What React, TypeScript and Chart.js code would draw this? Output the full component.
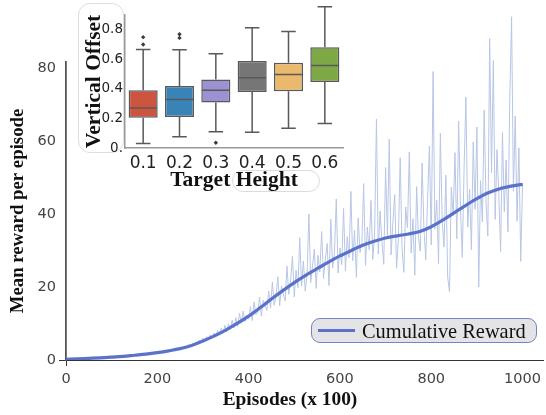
import React, { useEffect, useRef } from 'react';
import { Chart, registerables } from 'chart.js';

Chart.register(...registerables);

// ---------- main chart data ----------
const X_TICKS = [0, 200, 400, 600, 800, 1000];
const Y_TICKS = [0, 20, 40, 60, 80];

const SMOOTH_EPISODES = [
  0, 25, 50, 75, 100, 125, 150, 175, 200, 225, 250, 275, 300, 325, 350, 375, 400, 425, 450, 475, 500,
  525, 550, 575, 600, 625, 650, 675, 700, 725, 750, 775, 800, 825, 850, 875, 900, 925, 950, 975, 1000,
];
const SMOOTH_REWARD = [
  0.2, 0.3, 0.45, 0.6, 0.8, 1.0, 1.3, 1.6, 2.0, 2.5, 3.1, 4.0, 5.2, 6.6, 8.2, 10.0, 12.0, 14.3, 16.7, 19.0, 21.2,
  23.2, 25.0, 26.8, 28.5, 30.0, 31.4, 32.5, 33.4, 34.0, 34.5, 35.2, 36.5, 38.3, 40.3, 42.3, 44.2, 45.8, 46.9, 47.6, 48.1,
];

const RAW_STEP = 4; // episodes between raw samples
const RAW_REWARD = [
  0.2, 0.2, 0.3, 0.2, 0.3, 0.2, 0.3, 0.3, 0.3, 0.4,
  0.4, 0.4, 0.5, 0.4, 0.5, 0.5, 0.6, 0.5, 0.6, 0.6,
  0.7, 0.6, 0.7, 0.8, 0.7, 0.8, 0.9, 0.8, 0.9, 1.0,
  0.9, 1.1, 1.0, 1.2, 1.1, 1.3, 1.2, 1.4, 1.3, 1.5,
  1.4, 1.6, 1.5, 1.7, 1.6, 1.8, 1.9, 1.7, 2.0, 1.9,
  2.1, 2.0, 2.3, 2.2, 2.5, 2.3, 2.6, 2.8, 2.5, 2.9,
  2.8, 3.2, 2.9, 3.5, 3.1, 3.8, 3.4, 4.2, 3.7, 4.4,
  4.0, 4.9, 4.3, 5.5, 4.8, 6.0, 5.1, 6.4, 5.6, 6.9,
  5.9, 7.4, 6.2, 8.1, 6.9, 8.7, 7.3, 9.5, 7.8, 9.9,
  8.4, 10.9, 8.8, 11.6, 9.2, 12.8, 10.1, 13.4, 10.5, 12.2,
  11.2, 14.6, 10.8, 15.9, 12.4, 13.1, 17.2, 12.0, 16.4, 14.8,
  13.6, 18.9, 14.2, 21.4, 15.0, 17.6, 22.8, 14.9, 20.3, 18.1,
  16.2, 25.7, 18.0, 21.9, 28.4, 17.3, 24.6, 19.8, 33.5, 20.2,
  27.1, 18.9, 23.4, 40.0, 21.2, 25.8, 30.4, 19.6, 28.7, 24.1,
  35.2, 22.3, 27.6, 31.9, 20.4, 38.6, 25.2, 29.3, 44.1, 23.8,
  30.7, 26.1, 41.5, 24.4, 33.8, 28.0, 46.2, 27.2, 35.5, 22.6,
  38.9, 29.4, 31.8, 48.3, 25.9, 36.4, 30.2, 43.7, 27.5, 34.9,
  66.0, 29.0, 40.8, 32.4, 26.2, 52.7, 34.1, 60.5, 28.8, 37.6,
  45.3, 25.1, 33.0, 55.4, 30.6, 24.0, 41.9, 36.2, 57.0, 29.3,
  38.7, 23.2, 47.5, 33.6, 29.8, 53.9, 36.0, 27.4, 44.2, 58.6,
  31.5, 79.0, 35.9, 43.8, 26.4, 62.1, 38.2, 30.9, 50.6, 22.7,
  18.6, 47.3, 39.5, 56.8, 33.2, 65.4, 42.0, 28.1, 52.9, 72.0,
  36.4, 46.8, 30.2, 59.7, 41.3, 63.8, 20.0, 49.1, 37.8, 68.4,
  43.0, 33.9, 88.0, 51.2, 82.0, 38.5, 57.6, 45.1, 29.7, 62.3,
  40.6, 54.8, 35.1, 71.5, 94.0, 46.2, 66.8, 38.0, 58.1, 27.0,
  48.5,
];

// ---------- inset boxplot data ----------
const HEIGHT_LABELS = ['0.1', '0.2', '0.3', '0.4', '0.5', '0.6'];
const BOX_Q1 = [0.204, 0.21, 0.308, 0.379, 0.384, 0.446];
const BOX_Q3 = [0.39, 0.42, 0.463, 0.588, 0.577, 0.682];
const BOX_MEDIAN = [0.27, 0.328, 0.39, 0.476, 0.498, 0.559];
const WHISKER_LOW = [0.03, 0.076, 0.11, 0.106, 0.133, 0.166];
const WHISKER_HIGH = [0.667, 0.665, 0.638, 0.813, 0.788, 0.956];
const OUTLIER_GROUP = ['0.1', '0.1', '0.2', '0.2', '0.3'];
const OUTLIER_VALUE = [0.70, 0.75, 0.745, 0.77, 0.036];
const BOX_COLORS = ['#cd5540', '#3a83b7', '#9c92d3', '#767676', '#eab96d', '#7ea845'];
const INSET_Y_TICKS = [0, 0.2, 0.4, 0.6, 0.8];
const INSET_Y_TICK_TEXT = ['0.', '0.2', '0.4', '0.6', '0.8'];

const RAW_COLOR = '#b8c6e5';
const SMOOTH_COLOR = '#5a73c8';

const boxWhiskerPlugin = {
  id: 'boxWhiskers',
  afterDatasetsDraw(chart: any) {
    const { ctx } = chart;
    const xs = chart.scales.x;
    const ys = chart.scales.y;
    const meta = chart.getDatasetMeta(0);
    ctx.save();
    ctx.strokeStyle = '#595959';
    ctx.lineWidth = 1.5;
    HEIGHT_LABELS.forEach((_, i) => {
      const bar = meta.data[i];
      const cx = xs.getPixelForValue(i);
      const half = (bar && bar.width ? bar.width : 28) / 2;
      const yq1 = ys.getPixelForValue(BOX_Q1[i]);
      const yq3 = ys.getPixelForValue(BOX_Q3[i]);
      const ylo = ys.getPixelForValue(WHISKER_LOW[i]);
      const yhi = ys.getPixelForValue(WHISKER_HIGH[i]);
      const ymed = ys.getPixelForValue(BOX_MEDIAN[i]);
      ctx.beginPath();
      ctx.moveTo(cx, yq1); ctx.lineTo(cx, ylo);
      ctx.moveTo(cx - half / 2, ylo); ctx.lineTo(cx + half / 2, ylo);
      ctx.moveTo(cx, yq3); ctx.lineTo(cx, yhi);
      ctx.moveTo(cx - half / 2, yhi); ctx.lineTo(cx + half / 2, yhi);
      ctx.moveTo(cx - half + 0.75, ymed); ctx.lineTo(cx + half - 0.75, ymed);
      ctx.stroke();
    });
    ctx.restore();
  },
};

export default function App() {
  const mainRef = useRef<HTMLCanvasElement>(null);
  const insetRef = useRef<HTMLCanvasElement>(null);

  useEffect(() => {
    const main = new Chart(mainRef.current as HTMLCanvasElement, {
      type: 'line',
      data: {
        datasets: [
          {
            label: 'raw',
            data: RAW_REWARD.map((v, i) => ({ x: i * RAW_STEP, y: v })),
            borderColor: RAW_COLOR,
            borderWidth: 1,
            pointRadius: 0,
            tension: 0,
            clip: false as any,
            order: 2,
          },
          {
            label: 'Cumulative Reward',
            data: SMOOTH_EPISODES.map((e, i) => ({ x: e, y: SMOOTH_REWARD[i] })),
            borderColor: SMOOTH_COLOR,
            borderWidth: 3.2,
            pointRadius: 0,
            cubicInterpolationMode: 'monotone',
            order: 1,
          },
        ],
      },
      options: {
        animation: false,
        responsive: false,
        devicePixelRatio: 1,
        layout: { padding: { top: 62, right: 0, left: 0, bottom: 0 } },
        plugins: { legend: { display: false }, tooltip: { enabled: false } },
        scales: {
          x: {
            type: 'linear',
            min: 0,
            max: 1045,
            afterBuildTicks: (s: any) => { s.ticks = X_TICKS.map((v) => ({ value: v })); },
            afterFit: (s: any) => { s.height = 55; },
            ticks: {
              font: { family: 'DejaVu Sans', size: 14.5 },
              color: '#444',
              padding: 5,
              maxRotation: 0,
              autoSkip: false,
              callback: (v: any) => String(v),
            },
            grid: {
              drawOnChartArea: false,
              tickLength: 6,
              lineWidth: 1,
              color: (c: any) => (c.tick && c.tick.value === 0 ? '#333' : 'rgba(0,0,0,0)'),
            },
            border: { color: '#333', width: 1 },
          },
          y: {
            type: 'linear',
            min: 0,
            max: 81.6,
            afterBuildTicks: (s: any) => { s.ticks = Y_TICKS.map((v) => ({ value: v })); },
            afterFit: (s: any) => { s.width = 66; },
            ticks: {
              font: { family: 'DejaVu Sans', size: 14.5 },
              color: '#444',
              padding: 3,
              autoSkip: false,
              callback: (v: any) => String(v),
            },
            grid: {
              drawOnChartArea: false,
              tickLength: 7,
              lineWidth: 1,
              color: (c: any) => (c.tick && c.tick.value === 0 ? '#333' : 'rgba(0,0,0,0)'),
            },
            border: { color: '#555', width: 1.8 },
            title: {
              display: true,
              text: 'Mean reward per episode',
              font: { family: 'Liberation Serif', size: 18.8, weight: 'bold' },
              color: '#111',
              padding: { top: 7, bottom: 0 },
            },
          },
        },
      } as any,
    });

    const inset = new Chart(insetRef.current as HTMLCanvasElement, {
      type: 'bar',
      data: {
        labels: HEIGHT_LABELS,
        datasets: [
          {
            type: 'bar',
            label: 'box',
            data: BOX_Q1.map((q, i) => [q, BOX_Q3[i]]),
            backgroundColor: BOX_COLORS,
            borderColor: '#595959',
            borderWidth: 1.5,
            borderSkipped: false,
            barPercentage: 0.8,
            categoryPercentage: 1,
          } as any,
          {
            type: 'scatter',
            label: 'outliers',
            data: OUTLIER_GROUP.map((g, i) => ({ x: g, y: OUTLIER_VALUE[i] })),
            pointStyle: 'rectRot',
            pointRadius: 2.2,
            backgroundColor: '#3a3a3a',
            borderWidth: 0,
          } as any,
        ],
      },
      options: {
        animation: false,
        responsive: false,
        devicePixelRatio: 1,
        layout: { padding: { top: 15, right: 2, left: 0, bottom: 0 } },
        plugins: { legend: { display: false }, tooltip: { enabled: false } },
        scales: {
          x: {
            type: 'category',
            offset: true,
            afterFit: (s: any) => { s.height = 44; },
            ticks: { font: { family: 'DejaVu Sans', size: 17 }, color: '#222', padding: 5, maxRotation: 0 },
            grid: { drawOnChartArea: false, drawTicks: false },
            border: { color: '#999', width: 1.5 },
            title: {
              display: true,
              text: 'Target Height',
              font: { family: 'Liberation Serif', size: 21.5, weight: 'bold', lineHeight: 1.1 },
              color: '#111',
              padding: { top: 0, bottom: 0 },
            },
          },
          y: {
            type: 'linear',
            min: 0,
            max: 0.9,
            afterBuildTicks: (s: any) => { s.ticks = INSET_Y_TICKS.map((v) => ({ value: v })); },
            afterFit: (s: any) => { s.width = 50; },
            ticks: {
              font: { family: 'DejaVu Sans', size: 13.5 },
              color: '#222',
              padding: 2,
              autoSkip: false,
              callback: (_v: any, idx: number) => INSET_Y_TICK_TEXT[idx],
            },
            grid: { drawOnChartArea: false, drawTicks: false },
            border: { color: '#999', width: 1.5 },
            title: {
              display: true,
              text: 'Vertical Offset',
              font: { family: 'Liberation Serif', size: 21.5, weight: 'bold', lineHeight: 1.1 },
              color: '#111',
              padding: { top: 8, bottom: 0 },
            },
          },
        },
      } as any,
      plugins: [boxWhiskerPlugin],
    });

    return () => {
      main.destroy();
      inset.destroy();
    };
  }, []);

  return (
    <div style={{ position: 'fixed', left: 0, top: 0, width: 546, height: 415, background: '#fff', overflow: 'hidden' }}>
      <canvas ref={mainRef} width={546} height={415} style={{ position: 'absolute', left: 0, top: 0, display: 'block' }} />
      <div
        style={{
          position: 'absolute', left: 290, top: 389, transform: 'translateX(-50%)',
          font: 'bold 19.4px "Liberation Serif"', lineHeight: '19px', whiteSpace: 'nowrap', color: '#111',
        }}
      >
        Episodes (x 100)
      </div>
      <div
        style={{
          position: 'absolute', left: 311, top: 318, width: 226, height: 25, boxSizing: 'border-box',
          border: '1.3px solid #7084ca', borderRadius: 9, background: 'rgba(226,226,228,0.92)',
          display: 'flex', alignItems: 'center',
        }}
      >
        <span style={{ display: 'inline-block', width: 37, height: 3.2, background: SMOOTH_COLOR, marginLeft: 6 }} />
        <span style={{ marginLeft: 7, font: '20.4px "Liberation Serif"', color: '#111', whiteSpace: 'nowrap', lineHeight: '20px' }}>
          Cumulative Reward
        </span>
      </div>
      <div style={{ position: 'absolute', left: 75, top: 0, width: 272, height: 172, background: '#fff' }} />
      <div
        style={{
          position: 'absolute', left: 232, top: 170, width: 88, height: 22, boxSizing: 'border-box',
          border: '1px solid #dcdcdc', borderRadius: 11, background: '#fff',
        }}
      />
      <div
        style={{
          position: 'absolute', left: 78, top: 3, width: 46, height: 150, boxSizing: 'border-box',
          border: '1px solid #dedede', borderRadius: 12, background: '#fff',
        }}
      />
      <canvas ref={insetRef} width={272} height={192} style={{ position: 'absolute', left: 75, top: 0, display: 'block' }} />
    </div>
  );
}
